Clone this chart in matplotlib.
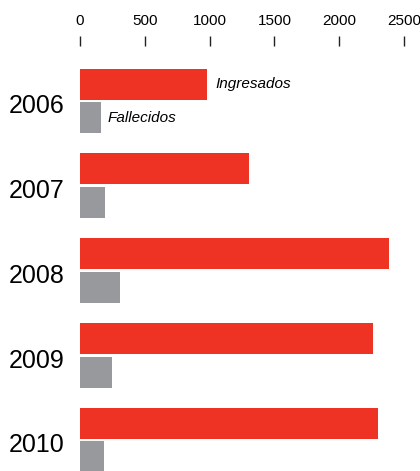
import matplotlib
matplotlib.use('Agg')
import matplotlib.pyplot as plt
import numpy as np

plt.rcParams['font.family'] = ['Liberation Sans', 'DejaVu Sans']

years = ['2006', '2007', '2008', '2009', '2010']
ingresados = [980, 1304, 2384, 2261, 2299]
fallecidos = [162, 193, 309, 247, 185]

red = '#ee3224'
gray = '#98999c'

fig = plt.figure(figsize=(4.2, 4.71), dpi=100)
ax = fig.add_axes([80/420, 0, 1 - 80/420, 1 - 46/471])

y = np.arange(len(years))
ax.barh(y - 0.2, ingresados, height=0.366, color=red)
ax.barh(y + 0.2, fallecidos, height=0.366, color=gray)

ax.set_xlim(0, 2623)
ax.set_ylim(4.366, -0.649)

ax.xaxis.tick_top()
ax.set_xticks([0, 500, 1000, 1500, 2000, 2500])
ax.tick_params(axis='x', direction='out', length=7, width=1, pad=6,
               labelsize=11, color='#222222')
ax.set_yticks(y + 0.035)
ax.set_yticklabels(years)
ax.tick_params(axis='y', length=0, pad=11, labelsize=18)
for s in ax.spines.values():
    s.set_visible(False)

ax.text(ingresados[0] + 62, -0.2, 'Ingresados', style='italic', fontsize=11,
        va='center', ha='left')
ax.text(fallecidos[0] + 54, 0.2, 'Fallecidos', style='italic', fontsize=11,
        va='center', ha='left')

fig.savefig('out.png', dpi=100)
